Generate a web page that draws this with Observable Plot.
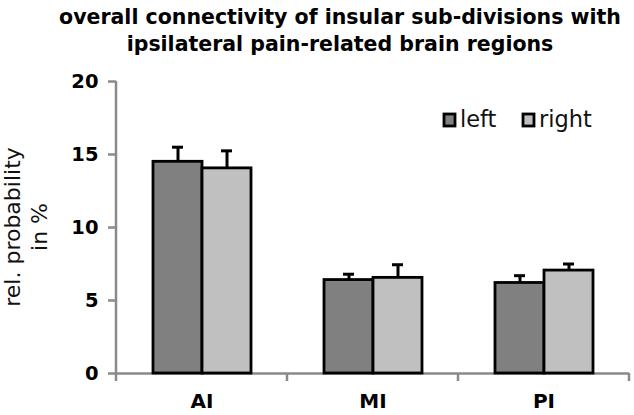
<!DOCTYPE html>
<html><head><meta charset="utf-8">
<script src="https://cdn.jsdelivr.net/npm/d3@7"></script>
<script src="https://cdn.jsdelivr.net/npm/@observablehq/plot@0.6"></script>
<style>
body{margin:0;background:#fff;}
#wrap{position:relative;width:634px;height:415px;overflow:hidden;background:#fff}
#title{position:absolute;left:46px;width:588px;top:4px;text-align:center;font:bold 20.5px/27px "DejaVu Sans";color:#000}
#chart{position:absolute;left:0;top:60px}
</style></head><body>
<div id="wrap"><div id="title">overall connectivity of insular sub-divisions with<br>ipsilateral pain-related brain regions</div><div id="chart"></div></div>
<script>
const categories = ["AI", "MI", "PI"];
const sides = ["left", "right"];
const leftValues = [14.5, 6.4, 6.2];
const leftErrors = [1.0, 0.4, 0.5];
const rightValues = [14.05, 6.55, 7.05];
const rightErrors = [1.2, 0.9, 0.45];
const yTicks = [0, 5, 10, 15, 20];
const colors = ["#808080", "#c0c0c0"];
const yLabel = ["rel. probability", "in %"];

const data = categories.flatMap((c, i) => [
  {cat: c, side: "left", value: leftValues[i], err: leftErrors[i]},
  {cat: c, side: "right", value: rightValues[i], err: rightErrors[i]}
]);

const chart = Plot.plot({
  width: 634, height: 355, marginTop: 21, marginBottom: 42, marginLeft: 115, marginRight: 4,
  style: {fontFamily: "DejaVu Sans", background: "white", color: "black"},
  fx: {domain: categories, padding: 0, label: null},
  x: {domain: sides, paddingInner: 0, paddingOuter: 0.715, axis: null},
  y: {domain: [0, 20], axis: null},
  color: {domain: sides, range: colors},
  marks: [
    Plot.ruleY([0], {stroke: "#8a8a8a", strokeWidth: 2.5}),
    Plot.ruleX(data, {fx: "cat", x: "side", y1: "value", y2: d => d.value + d.err, stroke: "black", strokeWidth: 3}),
    Plot.barY(data, {fx: "cat", x: "side", y: "value", fill: "side", stroke: "black", strokeWidth: 2.8}),
    Plot.tickY(data, {fx: "cat", x: "side", y: d => d.value + d.err, stroke: "black", strokeWidth: 3, insetLeft: 19, insetRight: 19}),
    Plot.axisY({ticks: yTicks, tickSize: 8, tickPadding: 10, stroke: "#8a8a8a", strokeWidth: 2.5, fill: "black", fontSize: 19.5, fontWeight: "bold", label: null}),
    Plot.axisFx({anchor: "bottom", tickSize: 0, tickPadding: 20, fill: "black", fontSize: 20, fontWeight: "bold", label: null})
  ]
});
document.getElementById("chart").appendChild(chart);

const svg = d3.select(chart);
const y = chart.scale("y"), fx = chart.scale("fx");
const y0 = y.apply(0), yTop = y.apply(20);
const bounds = categories.map(c => fx.apply(c)).concat([fx.apply(categories[categories.length - 1]) + fx.bandwidth]);
const g = svg.append("g");
g.append("line").attr("x1", bounds[0]).attr("x2", bounds[0]).attr("y1", yTop).attr("y2", y0 + 8)
  .attr("stroke", "#8a8a8a").attr("stroke-width", 2.5);
g.selectAll("line.sep").data(bounds.slice(1)).join("line").attr("class", "sep")
  .attr("x1", d => d).attr("x2", d => d).attr("y1", y0).attr("y2", y0 + 8)
  .attr("stroke", "#8a8a8a").attr("stroke-width", 2.5);

// y label
const yl = g.append("text").attr("transform", `translate(0,${(y0 + yTop) / 2}) rotate(-90)`)
  .attr("text-anchor", "middle").attr("font-family", "DejaVu Sans").attr("font-size", 22).attr("fill", "#111");
yl.selectAll("tspan").data(yLabel).join("tspan").attr("x", 0).attr("y", (d, i) => 19.5 + i * 27.5).text(d => d);

// legend
const lg = g.append("g").attr("font-family", "DejaVu Sans").attr("font-size", 22.5).attr("text-anchor", "start");
const legX = [444, 523];
sides.forEach((s, i) => {
  lg.append("rect").attr("x", legX[i]).attr("y", 54).attr("width", 11).attr("height", 12)
    .attr("fill", colors[i]).attr("stroke", "black").attr("stroke-width", 2.8);
  lg.append("text").attr("x", legX[i] + 16).attr("y", 67).text(s).attr("fill", "#111");
});
</script>
</body></html>
